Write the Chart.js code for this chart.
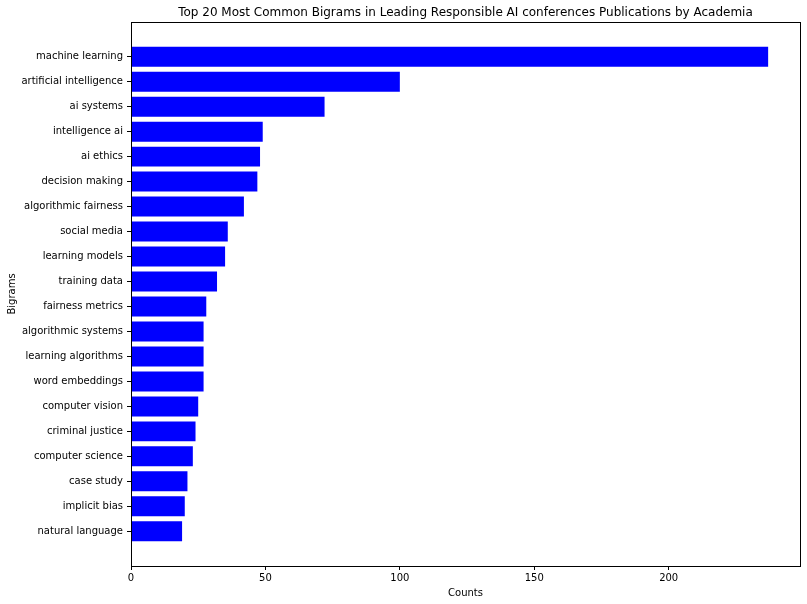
<!DOCTYPE html>
<html>
<head>
<meta charset="utf-8">
<script src="https://cdn.jsdelivr.net/npm/chart.js@4"></script>
<style>
    body { margin: 0; background: #fff; }
    #wrap { width: 807px; height: 604px; position: relative; }
</style>
</head>
<body>
<div id="wrap"><canvas id="bigramChart"></canvas></div>
<script>
// bigram counts, top to bottom
const categories = [
    'machine learning', 'artificial intelligence', 'ai systems', 'intelligence ai',
    'ai ethics', 'decision making', 'algorithmic fairness', 'social media',
    'learning models', 'training data', 'fairness metrics', 'algorithmic systems',
    'learning algorithms', 'word embeddings', 'computer vision', 'criminal justice',
    'computer science', 'case study', 'implicit bias', 'natural language'
];
const counts = [237, 100, 72, 49, 48, 47, 42, 36, 35, 32, 28, 27, 27, 27, 25, 24, 23, 21, 20, 19];
const xTicks = [0, 50, 100, 150, 200];

const chartTitle = 'Top 20 Most Common Bigrams in Leading Responsible AI conferences Publications by Academia';
const font = 'DejaVu Sans';

// matplotlib-style frame and title centred over the axes
const framePlugin = {
    id: 'frame',
    afterDraw(chart) {
        const { ctx, chartArea: a } = chart;
        ctx.save();
        ctx.strokeStyle = '#000';
        ctx.lineWidth = 1;
        ctx.strokeRect(Math.round(a.left) + 0.5, Math.round(a.top) + 0.5,
            Math.round(a.right - a.left), Math.round(a.bottom - a.top));
        ctx.fillStyle = '#000';
        ctx.font = '12px "' + font + '"';
        ctx.textAlign = 'center';
        ctx.textBaseline = 'middle';
        ctx.fillText(chartTitle, (a.left + a.right) / 2, 13);
        ctx.restore();
    }
};

const n = categories.length;
const yPad = (n - 0.2) * 0.05;

new Chart(document.getElementById('bigramChart'), {
    type: 'bar',
    data: {
        datasets: [{
            data: counts.map((c, i) => ({ x: c, y: i })),
            backgroundColor: '#0000ff',
            borderWidth: 0,
            barPercentage: 0.8,
            categoryPercentage: 1
        }]
    },
    options: {
        indexAxis: 'y',
        responsive: true,
        maintainAspectRatio: false,
        animation: false,
        layout: { padding: { top: 22, right: 7, left: 0, bottom: 0 } },
        plugins: {
            legend: { display: false },
            tooltip: { enabled: false }
        },
        scales: {
            x: {
                type: 'linear',
                min: 0,
                max: Math.max(...counts) * 1.05,
                border: { display: false },
                grid: { drawOnChartArea: false, drawTicks: true, tickLength: 4, color: '#000' },
                afterBuildTicks: s => { s.ticks = xTicks.map(v => ({ value: v })); },
                afterFit: s => { s.height = 38; },
                ticks: { color: '#000', padding: 2, font: { family: font, size: 10 } },
                title: { display: true, text: 'Counts', color: '#000', padding: { top: 0, bottom: 5 }, font: { family: font, size: 10 } }
            },
            y: {
                type: 'linear',
                reverse: true,
                offset: false,
                min: -0.4 - yPad,
                max: n - 1 + 0.4 + yPad,
                border: { display: false },
                grid: { offset: false, drawOnChartArea: false, drawTicks: true, tickLength: 4, color: '#000' },
                afterBuildTicks: s => { s.ticks = categories.map((_, i) => ({ value: i })); },
                afterFit: s => { s.width = 131; },
                ticks: {
                    autoSkip: false,
                    color: '#000',
                    padding: 4,
                    font: { family: font, size: 10 },
                    callback: v => categories[v]
                },
                title: { display: true, text: 'Bigrams', color: '#000', padding: { top: 6, bottom: 0 }, font: { family: font, size: 10 } }
            }
        }
    },
    plugins: [framePlugin]
});
</script>
</body>
</html>
